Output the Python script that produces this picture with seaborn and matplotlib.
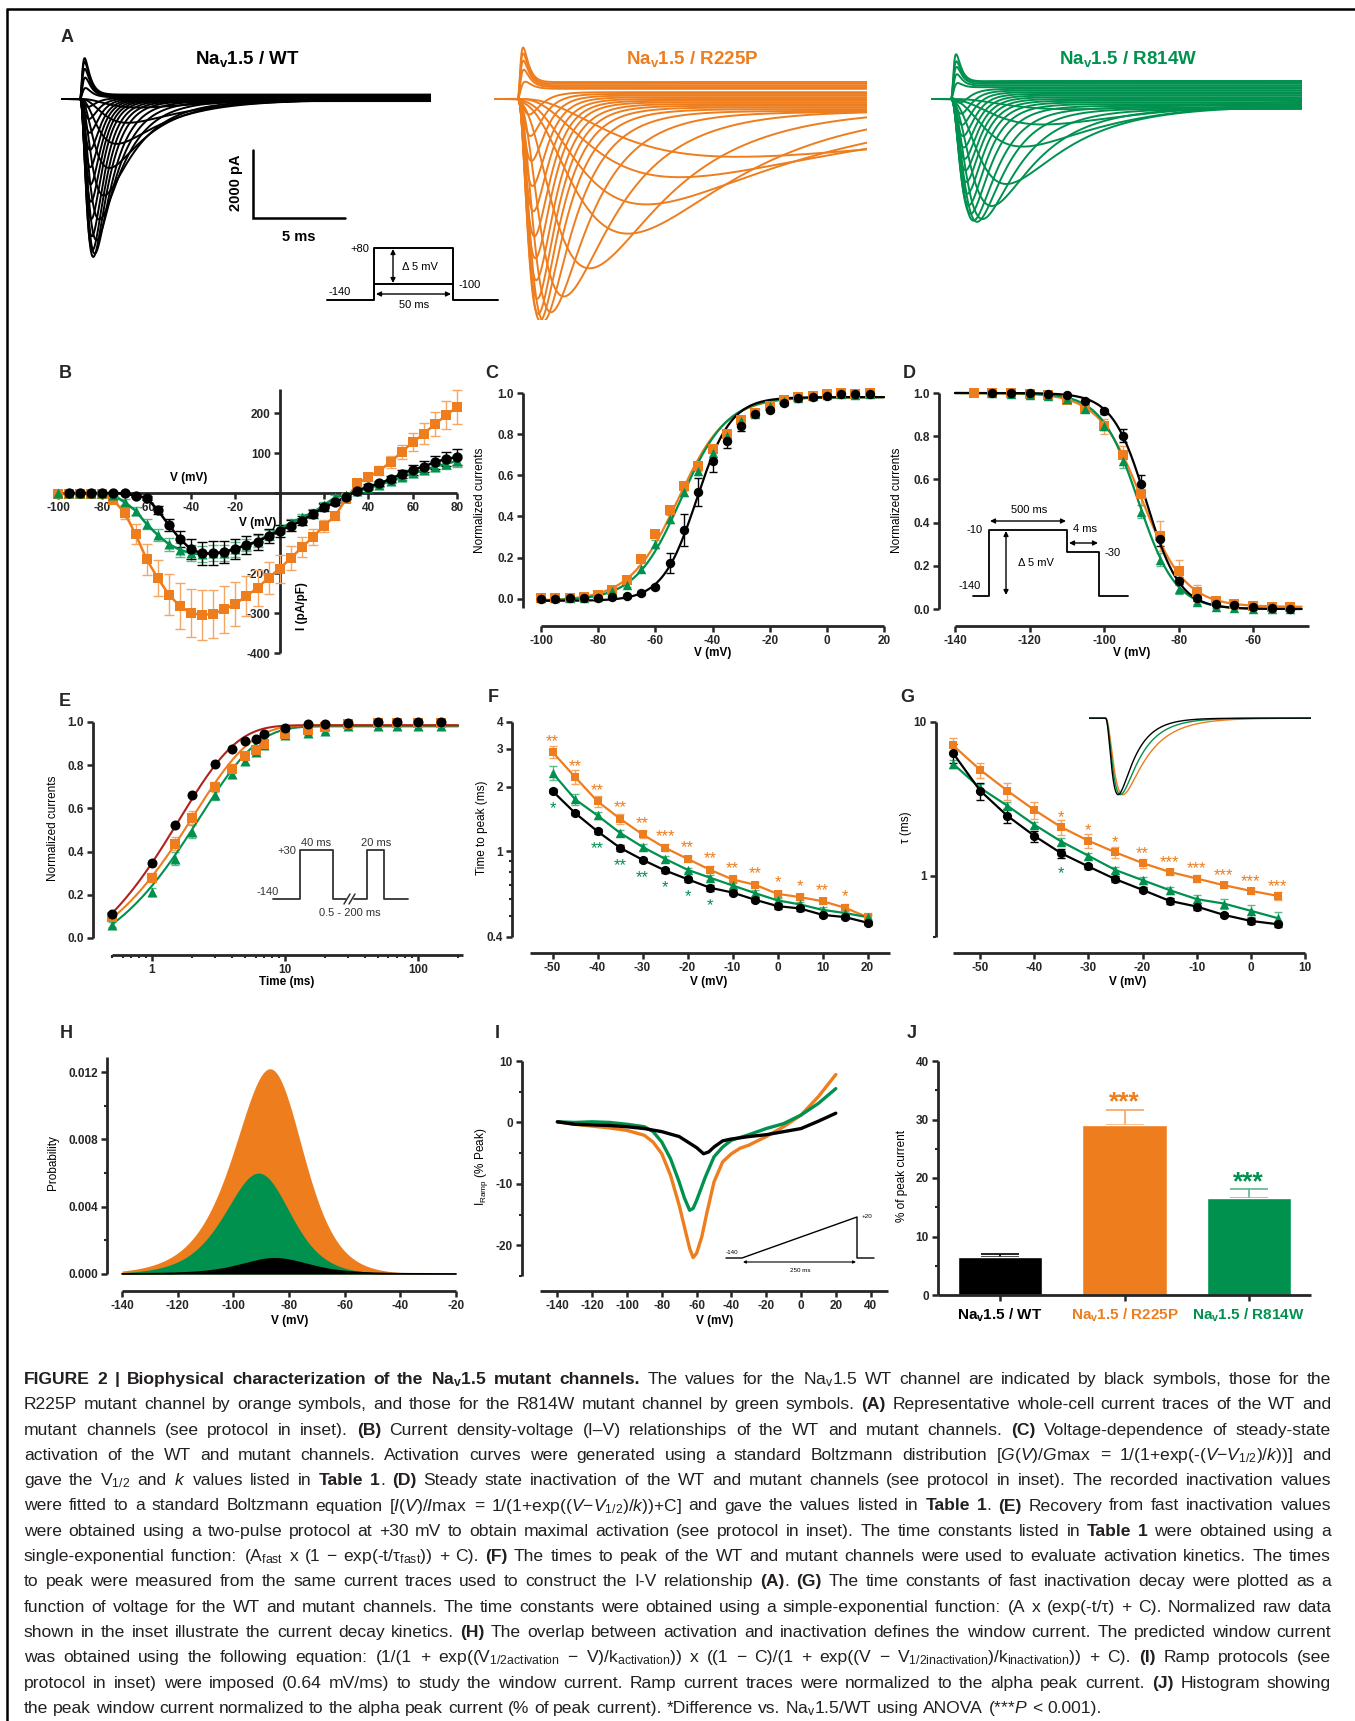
import numpy as np
import pandas as pd
import matplotlib
matplotlib.use("Agg")
import matplotlib.pyplot as plt
import matplotlib.ticker as mticker
import seaborn as sns

W, H = 1355, 1721

BLACK = "#000000"
ORANGE = "#EE7D1E"
GREEN = "#00914F"
FIT_RED = "#B0231D"
ORANGE_ERR = "#F4A664"
GREEN_ERR = "#5DB88B"

# ---------------- A: representative sweeps (peak pA, time to peak ms, decay tau ms, late pA)
wt_peak = [-250, -700, -1300, -2000, -2800, -3500, -4100, -4500, -4600, -4400, -4000, -3500,
           -3000, -2500, -2000, -1500, -1000, -600, -250, 300, 600, 850, 1050, 1150]
wt_ttp = [3.2, 2.6, 2.0, 1.6, 1.3, 1.05, 0.9, 0.8, 0.72, 0.68, 0.65, 0.62,
          0.6, 0.58, 0.56, 0.55, 0.53, 0.5, 0.45, 0.3, 0.28, 0.26, 0.25, 0.25]
wt_tau = [4.0, 3.4, 2.8, 2.3, 1.9, 1.5, 1.2, 1.0, 0.85, 0.75, 0.68, 0.62,
          0.58, 0.55, 0.52, 0.5, 0.48, 0.45, 0.42, 0.35, 0.32, 0.3, 0.3, 0.3]
wt_late = [0, 0, -20, -30, -40, -50, -60, -60, -60, -60, -50, -40,
           -30, -20, -10, 0, 10, 20, 30, 50, 70, 90, 110, 130]

or_peak = [-1700, -2300, -3000, -3760, -4680, -5460, -5900, -6200, -6250, -6100, -5700, -5200,
           -4600, -4000, -3300, -2600, -1900, -1200, -600, 350, 700, 950, 1150, 1300]
or_ttp = [12, 8.8, 7.0, 6.0, 3.9, 2.5, 1.8, 1.4, 1.2, 1.1, 1.05, 1.0,
          0.95, 0.9, 0.85, 0.8, 0.75, 0.7, 0.65, 0.35, 0.3, 0.28, 0.27, 0.27]
or_tau = [28, 16, 10, 6, 4.5, 3.2, 2.3, 1.8, 1.5, 1.3, 1.15, 1.05,
          0.95, 0.9, 0.85, 0.8, 0.75, 0.7, 0.65, 0.4, 0.36, 0.34, 0.33, 0.32]
or_late = [0, 0, -100, -200, -300, -350, -380, -350, -300, -250, -200, -150,
           -100, -50, 0, 50, 100, 150, 200, 300, 350, 400, 450, 500]

gr_peak = [-300, -700, -1300, -2300, -2900, -3250, -3350, -3350, -3200, -3000, -2700, -2400,
           -2100, -1800, -1500, -1200, -900, -600, -300, 300, 550, 750, 900, 1100]
gr_ttp = [6.5, 5.0, 3.9, 3.0, 2.2, 1.7, 1.4, 1.2, 1.05, 0.95, 0.88, 0.82,
          0.78, 0.74, 0.7, 0.66, 0.62, 0.58, 0.55, 0.3, 0.28, 0.27, 0.26, 0.25]
gr_tau = [8, 6, 4.6, 3.4, 2.6, 2.0, 1.6, 1.35, 1.15, 1.0, 0.9, 0.82,
          0.75, 0.7, 0.66, 0.62, 0.58, 0.55, 0.52, 0.35, 0.33, 0.32, 0.31, 0.3]
gr_late = [0, -50, -100, -200, -250, -290, -280, -250, -200, -150, -100, -50,
           0, 50, 100, 150, 200, 250, 300, 350, 400, 450, 500, 530]

# ---------------- B: current density (pA/pF)
iv_v = [-100, -95, -90, -85, -80, -75, -70, -65, -60, -55, -50, -45, -40, -35, -30, -25, -20, -15,
        -10, -5, 0, 5, 10, 15, 20, 25, 30, 35, 40, 45, 50, 55, 60, 65, 70, 75, 80]
iv_wt = [0, 0, 0, 0, 0, -1, -7, -12, -43, -80, -115, -141, -151, -151, -147, -139, -130, -122,
         -107, -95, -82, -69, -53, -36, -23, -9, 6, 16, 24, 35, 48, 58, 66, 77, 85, 90]
iv_wt_err = [0, 0, 0, 0, 0, 1, 3, 5, 10, 15, 20, 25, 28, 30, 28, 25, 22, 20,
             18, 16, 14, 12, 10, 8, 6, 5, 5, 6, 7, 8, 10, 12, 14, 16, 18, 20]
iv_or = [-2, -2, -2, -2, -3, -18, -49, -103, -166, -213, -254, -283, -300, -305, -302, -291, -277, -258,
         -237, -212, -189, -163, -136, -110, -82, -57, -15, 24, 39, 56, 77, 102, 127, 148, 172, 194, 215]
iv_or_err = [0, 0, 0, 0, 2, 6, 15, 25, 38, 45, 52, 57, 60, 62, 60, 58, 55, 50,
             45, 40, 35, 30, 25, 20, 15, 10, 8, 8, 10, 12, 15, 18, 22, 26, 30, 35, 42]
iv_gr = [-1, -1, -1, -1, -1, -5, -23, -44, -78, -105, -128, -142, -151, -153, -151, -149, -141, -130,
         -120, -105, -90, -75, -61, -49, -30, -11, -4, 4, 13, 21, 30, 40, 49, 57, 66, 73, 80]
iv_gr_err = [0, 0, 0, 0, 0, 2, 8, 10, 12, 15, 16, 18, 20, 20, 20, 20, 18, 16,
             14, 12, 10, 10, 8, 8, 8, 6, 5, 5, 5, 6, 6, 7, 8, 9, 10, 12, 14]

# ---------------- C: activation
act_v = [-100, -95, -90, -85, -80, -75, -70, -65, -60, -55, -50, -45, -40, -35, -30, -25, -20, -15,
         -10, -5, 0, 5, 10, 15]
act_wt = [0.0, 0.0, 0.005, 0.005, 0.005, 0.008, 0.011, 0.028, 0.055, 0.173, 0.335, 0.519, 0.668, 0.768,
          0.841, 0.898, 0.919, 0.951, 0.976, 0.981, 0.984, 0.997, 0.994, 0.997]
act_wt_err = [0, 0, 0, 0, 0, 0, 0.005, 0.01, 0.01, 0.05, 0.078, 0.07, 0.05, 0.035, 0.025, 0.015,
              0.01, 0.01, 0.008, 0.005, 0.005, 0.005, 0.005, 0.005]
act_or = [0.005, 0.005, 0.005, 0.01, 0.02, 0.044, 0.092, 0.194, 0.314, 0.43, 0.546, 0.643, 0.728, 0.802,
          0.867, 0.905, 0.938, 0.964, 0.98, 0.987, 0.997, 1.0, 0.997, 0.998]
act_gr = [0.005, 0.005, 0.005, 0.005, 0.01, 0.036, 0.068, 0.144, 0.266, 0.387, 0.517, 0.622, 0.708,
          0.789, 0.862, 0.9, 0.935, 0.96, 0.975, 0.985, 0.99, 0.995, 0.99, 0.993]
act_mut_err = [0, 0, 0, 0, 0, 0.01, 0.01, 0.015, 0.02, 0.02, 0.02, 0.02, 0.02, 0.02, 0.015, 0.01,
               0.01, 0.01, 0.005, 0.005, 0.005, 0.005, 0.005, 0.005]
act_fit_vhalf = [-45.5, -52.0, -51.0]
act_fit_k = [6.0, 8.5, 8.0]

# ---------------- D: steady-state inactivation
inact_v = [-135, -130, -125, -120, -115, -110, -105, -100, -95, -90, -85, -80, -75, -70, -65, -60, -55, -50]
inact_wt = [1.0, 1.0, 1.0, 0.997, 0.989, 0.964, 0.915, 0.802, 0.58, 0.323, 0.131, 0.049, 0.022,
            0.019, 0.011, 0.003, 0.0]
inact_wt_err = [0, 0, 0, 0, 0, 0.005, 0.01, 0.03, 0.04, 0.03, 0.015, 0.01, 0.005, 0.005, 0, 0, 0]
inact_or = [1.0, 1.0, 1.0, 0.995, 0.99, 0.969, 0.926, 0.845, 0.714, 0.533, 0.338, 0.176, 0.08,
            0.039, 0.022, 0.014, 0.011, 0.011]
inact_or_err = [0, 0, 0, 0, 0, 0.01, 0.015, 0.035, 0.04, 0.05, 0.07, 0.05, 0.03, 0.015, 0.01,
                0.005, 0.005, 0.005]
inact_gr = [0.998, 0.995, 0.99, 0.985, 0.972, 0.926, 0.845, 0.683, 0.451, 0.227, 0.091, 0.031,
            0.011, 0.003, 0.002, 0.001, 0.001]
inact_gr_err = [0, 0, 0, 0, 0, 0.01, 0.015, 0.03, 0.03, 0.03, 0.02, 0.01, 0.005, 0, 0, 0, 0]
inact_fit_vhalf = [-88.7, -89.8, -90.8]
inact_fit_k = [4.5, 5.8, 5.0]
inact_fit_c = [0.0, 0.01, 0.0]

# ---------------- E: recovery from inactivation
rec_t = [0.5, 1, 1.5, 2, 3, 4, 5, 6, 7, 10, 15, 20, 30, 50, 70, 100, 150]
rec_wt = [0.113, 0.347, 0.525, 0.66, 0.804, 0.873, 0.91, 0.923, 0.943, 0.972, 0.992, 0.989, 0.997,
          1.0, 1.0, 1.0, 1.0]
rec_or = [0.097, 0.279, 0.437, 0.557, 0.699, 0.784, 0.841, 0.872, 0.9, 0.946, 0.965, 0.977, 0.992,
          0.997, 0.997, 0.997, 0.997]
rec_or_err = [0.01, 0.02, 0.03, 0.03, 0.025, 0.02, 0.015, 0.015, 0.01, 0.01, 0.01, 0.01, 0.005,
              0.005, 0.005, 0.005, 0.005]
rec_gr = [0.062, 0.213, 0.367, 0.491, 0.664, 0.761, 0.819, 0.861, 0.892, 0.938, 0.949, 0.957,
          0.981, 0.98, 0.98, 0.98, 0.98]
rec_fit_top = [0.985, 0.985, 0.98]
rec_fit_amp = [1.19, 1.14, 1.14]
rec_fit_tau = [1.6, 2.05, 2.3]

# ---------------- F: time to peak (ms)
ttp_v = [-50, -45, -40, -35, -30, -25, -20, -15, -10, -5, 0, 5, 10, 15, 20]
ttp_wt = [1.91, 1.51, 1.24, 1.04, 0.915, 0.816, 0.743, 0.678, 0.644, 0.596, 0.557, 0.543, 0.507, 0.495, 0.466]
ttp_wt_err = [0.05, 0.04, 0.03, 0.03, 0.02, 0.02, 0.02, 0.02, 0.015, 0.015, 0.015, 0.015, 0.01, 0.01, 0.01]
ttp_or = [2.90, 2.22, 1.71, 1.42, 1.20, 1.04, 0.924, 0.822, 0.741, 0.70, 0.635, 0.613, 0.587, 0.547, 0.495]
ttp_or_err = [0.18, 0.16, 0.1, 0.08, 0.05, 0.04, 0.03, 0.03, 0.02, 0.02, 0.02, 0.02, 0.02, 0.02, 0.02]
ttp_gr = [2.32, 1.75, 1.47, 1.22, 1.05, 0.924, 0.822, 0.755, 0.695, 0.64, 0.592, 0.567, 0.535, 0.517, 0.495]
ttp_gr_err = [0.17, 0.1, 0.06, 0.04, 0.03, 0.03, 0.02, 0.02, 0.02, 0.02, 0.015, 0.015, 0.015, 0.01, 0.01]
ttp_or_stars = ["**", "**", "**", "**", "**", "***", "**", "**", "**", "**", "*", "*", "**", "*", ""]
ttp_gr_stars = ["*", "", "**", "**", "**", "*", "*", "*", "", "", "", "", "", "", ""]

# ---------------- G: inactivation time constants (ms)
tau_v = [-55, -50, -45, -40, -35, -30, -25, -20, -15, -10, -5, 0, 5]
tau_wt = [6.28, 3.58, 2.46, 1.82, 1.40, 1.15, 0.95, 0.81, 0.687, 0.631, 0.557, 0.509, 0.484]
tau_wt_err = [0.9, 0.45, 0.25, 0.15, 0.1, 0.05, 0.04, 0.03, 0.03, 0.03, 0.02, 0.02, 0.02]
tau_or = [7.05, 4.89, 3.58, 2.68, 2.07, 1.69, 1.42, 1.21, 1.06, 0.96, 0.869, 0.798, 0.74]
tau_or_err = [0.8, 0.55, 0.45, 0.35, 0.22, 0.17, 0.12, 0.08, 0.05, 0.05, 0.04, 0.04, 0.04]
tau_gr = [5.35, 3.73, 2.86, 2.15, 1.67, 1.35, 1.09, 0.937, 0.807, 0.705, 0.66, 0.592, 0.53]
tau_gr_err = [0.3, 0.2, 0.15, 0.1, 0.08, 0.06, 0.05, 0.05, 0.04, 0.04, 0.05, 0.05, 0.05]
tau_or_stars = ["", "", "", "", "*", "*", "*", "**", "***", "***", "***", "***", "***"]
tau_gr_stars = ["", "", "", "", "*", "", "", "", "", "", "", "", ""]

# ---------------- H: predicted window current (WT, R225P, R814W)
win_center = [-85, -84, -89]
win_peak = [0.0009, 0.0122, 0.0060]
win_k_act = [8, 10, 9]
win_k_inact = [8, 7, 7]

# ---------------- I: ramp currents (% peak)
ramp_v_wt = [-140, -130, -120, -110, -100, -90, -80, -70, -65, -60, -56, -53, -50, -45, -40, -30,
             -20, -10, 0, 10, 20]
ramp_wt = [0.1, -0.3, -0.4, -0.5, -0.7, -1.0, -1.5, -2.3, -3.2, -4.1, -5.1, -4.8, -4.0, -3.0, -2.7,
           -2.3, -2.0, -1.5, -1.0, 0.2, 1.5]
ramp_v_gr = [-140, -130, -120, -110, -100, -90, -85, -80, -75, -70, -67, -64, -62, -60, -55, -50,
             -45, -40, -30, -20, -10, 0, 10, 20]
ramp_gr = [0.1, 0.0, 0.1, 0.0, -0.3, -0.7, -1.5, -3.2, -5.9, -9.7, -12.3, -14.3, -14.0, -12.7, -8.9,
           -5.6, -4.0, -2.9, -2.0, -1.0, -0.2, 1.2, 3.1, 5.5]
ramp_v_or = [-140, -130, -120, -110, -100, -90, -85, -80, -75, -70, -67, -64, -62, -60, -57, -54,
             -50, -45, -40, -35, -30, -20, -10, 0, 10, 20]
ramp_or = [0.1, -0.3, -0.6, -0.9, -1.3, -2.1, -3.2, -5.1, -8.6, -13.5, -17.0, -20.5, -22.0, -21.3,
           -18.6, -14.6, -9.7, -6.4, -5.1, -4.2, -3.7, -2.3, -0.7, 1.2, 4.2, 7.8]

# ---------------- J: peak window current (% of peak current)
j_labels = [r"Na$_{\mathbf{v}}$1.5 / WT", r"Na$_{\mathbf{v}}$1.5 / R225P", r"Na$_{\mathbf{v}}$1.5 / R814W"]
j_values = [6.44, 29.06, 16.5]
j_err = [0.6, 2.6, 1.6]

# ---------------- style
sns.set_style("ticks")
plt.rcParams["font.family"] = ["Liberation Sans", "DejaVu Sans"]
plt.rcParams["mathtext.fontset"] = "custom"
plt.rcParams["mathtext.rm"] = "Liberation Sans"
plt.rcParams["mathtext.it"] = "Liberation Sans:italic"
plt.rcParams["mathtext.bf"] = "Liberation Sans:bold"
plt.rcParams["axes.linewidth"] = 2.0

TICK_FS = 8.5
LAB_FS = 8.5

fig = plt.figure(figsize=(W / 100, H / 100), dpi=100)
ov = fig.add_axes([0, 0, 1, 1], zorder=10)
ov.set_xlim(0, W)
ov.set_ylim(H, 0)
ov.axis("off")


def px_axes(x0, y0, x1, y1):
    return fig.add_axes([x0 / W, 1 - y1 / H, (x1 - x0) / W, (y1 - y0) / H])


def prism(ax, left_out=0, bottom_out=0):
    sns.despine(ax=ax)
    ax.spines["left"].set_position(("outward", left_out * 0.72))
    ax.spines["bottom"].set_position(("outward", bottom_out * 0.72))
    for side in ("left", "bottom"):
        ax.spines[side].set_linewidth(2.0)
        ax.spines[side].set_capstyle("butt")
    ax.tick_params(which="major", length=4.5, width=1.8, pad=2)
    ax.tick_params(which="minor", length=2.5, width=1.5)
    ax.set_xlabel("")
    ax.set_ylabel("")
    ax.patch.set_alpha(0)


def ticks(ax, axis, values, labels, minor=None):
    kw = dict(fontsize=TICK_FS, fontweight="bold")
    if axis == "x":
        ax.set_xticks(values, labels=labels, **kw)
        if minor is not None:
            ax.set_xticks(minor, minor=True)
            ax.xaxis.set_minor_formatter(mticker.NullFormatter())
    else:
        ax.set_yticks(values, labels=labels, **kw)
        if minor is not None:
            ax.set_yticks(minor, minor=True)
            ax.yaxis.set_minor_formatter(mticker.NullFormatter())


def series(ax, x, y, err, color, marker, size, ecolor=None, line=True, lw=1.6, capsize=3.0):
    df = pd.DataFrame({"x": x, "y": y})
    if err is not None:
        ax.errorbar(x, y, yerr=err, fmt="none", ecolor=ecolor or color, elinewidth=1.0,
                    capsize=capsize, capthick=1.0, zorder=3, clip_on=False)
    if line:
        sns.lineplot(data=df, x="x", y="y", color=color, lw=lw, ax=ax, sort=False,
                     zorder=3.2, legend=False, clip_on=False)
    sns.scatterplot(data=df, x="x", y="y", color=color, marker=marker, s=size, linewidth=0,
                    ax=ax, zorder=4, legend=False, clip_on=False)


def fit_line(ax, x, y, color, lw=1.6):
    sns.lineplot(data=pd.DataFrame({"x": x, "y": y}), x="x", y="y", color=color, lw=lw,
                 ax=ax, sort=False, zorder=3.1, legend=False, clip_on=False)


def label(x, y, s, rot=0, bold=False, fs=LAB_FS, color=BLACK, ha="center"):
    ov.text(x, y, s, ha=ha, va="center", rotation=rot, fontsize=fs,
            fontweight="bold" if bold else "normal", color=color)


def sweep_current(t, peak, ttp, tau, late, t_on):
    # m^3 h waveform whose extremum falls ttp after the step
    r = 2.0
    for _ in range(100):
        r = np.log1p(3.0 * tau * r / ttp)
    tm = ttp / r
    s = np.clip(t - t_on, 0.0, None)
    gate = (1 - np.exp(-s / tm)) ** 3 * np.exp(-s / tau)
    return peak * gate / gate.max() + late * (1 - np.exp(-s / 0.5))


# ---------------- frame and panel letters
ov.plot([7, 7], [9, H], color=BLACK, lw=1.8, solid_capstyle="butt")
ov.plot([6, W], [9, 9], color=BLACK, lw=1.8, solid_capstyle="butt")
for letter, (lx, ly) in {"A": (67, 38), "B": (65, 374), "C": (492, 374), "D": (909, 373),
                         "E": (65, 701), "F": (493, 697), "G": (907, 697), "H": (66, 1034),
                         "I": (497, 1033), "J": (912, 1034)}.items():
    ov.text(lx, ly, letter, ha="center", va="center", fontsize=13, fontweight="bold")

# ---------------- A
trace_sets = [
    ((61, 31, 431, 320), 20.1, 1.03, wt_peak, wt_ttp, wt_tau, wt_late, BLACK),
    ((494, 31, 867, 320), 20.3, 1.3, or_peak, or_ttp, or_tau, or_late, ORANGE),
    ((931, 31, 1302, 320), 20.2, 1.1, gr_peak, gr_ttp, gr_tau, gr_late, GREEN),
]
for rect, tmax, t_on, peaks, ttps, taus, lates, color in trace_sets:
    axA = px_axes(*rect)
    t = np.linspace(0, tmax, 1400)
    frames = [pd.DataFrame({"t": t, "I": sweep_current(t, p, tp, ta, la, t_on), "sweep": i})
              for i, (p, tp, ta, la) in enumerate(zip(peaks, ttps, taus, lates))]
    sns.lineplot(data=pd.concat(frames), x="t", y="I", units="sweep", estimator=None,
                 color=color, lw=1.4, ax=axA, legend=False)
    axA.set_xlim(0, tmax)
    axA.set_ylim(-6500, 2000)
    axA.axis("off")

label(247, 59, r"Na$_{\mathbf{v}}$1.5 / WT", bold=True, fs=13.5)
label(692, 59, r"Na$_{\mathbf{v}}$1.5 / R225P", bold=True, fs=13.5, color=ORANGE)
label(1128, 59, r"Na$_{\mathbf{v}}$1.5 / R814W", bold=True, fs=13.5, color=GREEN)

# scale bar
ov.plot([253, 253, 345], [150, 218, 218], color=BLACK, lw=1.8, solid_joinstyle="miter")
label(236, 183, "2000 pA", rot=90, bold=True, fs=10.5)
label(299, 237, "5 ms", bold=True, fs=10.5)

# step protocol inset
ov.plot([327, 374, 374, 453, 453, 498], [300, 300, 248, 248, 300, 300], color=BLACK, lw=1.4)
ov.plot([374, 453], [284, 284], color=BLACK, lw=1.4)
arrow = dict(arrowstyle="<|-|>", color=BLACK, lw=1.0, mutation_scale=7, shrinkA=0, shrinkB=0)
ov.annotate("", xy=(393, 249), xytext=(393, 283), arrowprops=arrow)
ov.annotate("", xy=(376, 294), xytext=(451, 294), arrowprops=arrow)
label(360, 249, "+80", fs=8)
label(340, 292, "-140", fs=8)
label(470, 285, "-100", fs=8)
label(420, 267, "Δ 5 mV", fs=8)
label(414, 305, "50 ms", fs=8)

# ---------------- B
axB = px_axes(58, 389, 457, 653)
series(axB, iv_v, iv_or, iv_or_err, ORANGE, "s", 46, ecolor=ORANGE_ERR, capsize=3.6, lw=1.8)
series(axB, iv_v, iv_gr, iv_gr_err, GREEN, "^", 52, ecolor=GREEN_ERR, capsize=3.6, lw=1.8)
series(axB, iv_v[1:], iv_wt, iv_wt_err, BLACK, "o", 55, capsize=3.6, lw=1.8)
axB.set_xlim(-100, 80)
axB.set_ylim(-400, 260)
prism(axB)
axB.spines["left"].set_position(("data", 0))
axB.spines["bottom"].set_position(("data", 0))
ticks(axB, "x", [-100, -80, -60, -40, -20, 0, 20, 40, 60, 80],
      ["-100", "-80", "-60", "-40", "-20", "", "20", "40", "60", "80"])
ticks(axB, "y", [-400, -300, -200, -100, 0, 100, 200],
      ["-400", "-300", "-200", "", "", "100", "200"])
label(189, 478, "V (mV)", bold=True)
label(258, 523, "V (mV)", bold=True)
label(302, 606, "I (pA/pF)", rot=90, bold=True)

# ---------------- C
axC = px_axes(541, 393, 884, 608)
v_act = np.linspace(-100, 20, 300)
for k, vals, err, color, marker, ecol in [
        (1, act_or, act_mut_err, ORANGE, "s", ORANGE_ERR),
        (2, act_gr, act_mut_err, GREEN, "^", GREEN_ERR),
        (0, act_wt, act_wt_err, BLACK, "o", BLACK)]:
    fit_line(axC, v_act, -0.01 + 0.99 / (1 + np.exp((act_fit_vhalf[k] - v_act) / act_fit_k[k])), color)
    series(axC, act_v, vals, err, color, marker, 46, ecolor=ecol, line=False)
axC.set_xlim(-100, 20)
axC.set_ylim(-0.045, 1.0)
prism(axC, 18, 18)
ticks(axC, "x", [-100, -80, -60, -40, -20, 0, 20], ["-100", "-80", "-60", "-40", "-20", "0", "20"])
ticks(axC, "y", [0, 0.2, 0.4, 0.6, 0.8, 1.0], ["0.0", "0.2", "0.4", "0.6", "0.8", "1.0"])
label(480, 500, "Normalized currents", rot=90)
label(713, 653, "V (mV)", bold=True)

# ---------------- D
axD = px_axes(955, 393, 1309, 609)
v_in = np.linspace(-140, -47, 300)
for k, vx, vals, err, color, marker, ecol in [
        (1, inact_v, inact_or, inact_or_err, ORANGE, "s", ORANGE_ERR),
        (2, inact_v[1:], inact_gr, inact_gr_err, GREEN, "^", GREEN_ERR),
        (0, inact_v[1:], inact_wt, inact_wt_err, BLACK, "o", BLACK)]:
    c = inact_fit_c[k]
    fit_line(axD, v_in, c + (1 - c) / (1 + np.exp((v_in - inact_fit_vhalf[k]) / inact_fit_k[k])), color)
    series(axD, vx, vals, err, color, marker, 46, ecolor=ecol, line=False)
axD.set_xlim(-140, -45)
axD.set_ylim(0, 1.0)
prism(axD, 16, 17)
ticks(axD, "x", [-140, -120, -100, -80, -60], ["-140", "-120", "-100", "-80", "-60"])
ticks(axD, "y", [0, 0.2, 0.4, 0.6, 0.8, 1.0], ["0.0", "0.2", "0.4", "0.6", "0.8", "1.0"])
label(897, 500, "Normalized currents", rot=90)
label(1132, 653, "V (mV)", bold=True)

# inactivation protocol inset
ov.plot([973, 989, 989, 1067, 1067, 1099, 1099, 1128], [596, 596, 530, 530, 552, 552, 596, 596],
        color=BLACK, lw=1.3)
ov.annotate("", xy=(990, 521), xytext=(1066, 521), arrowprops=arrow)
ov.annotate("", xy=(1069, 543), xytext=(1098, 543), arrowprops=arrow)
ov.annotate("", xy=(1006, 531), xytext=(1006, 595), arrowprops=arrow)
label(1029, 510, "500 ms", fs=8)
label(975, 530, "-10", fs=8)
label(1085, 529, "4 ms", fs=8)
label(1113, 553, "-30", fs=8)
label(1036, 563, "Δ 5 mV", fs=8)
label(970, 586, "-140", fs=8)

# ---------------- E
axE = px_axes(112, 722, 463, 938)
t_fit = np.geomspace(0.5, 200, 300)
for k, vals, err, color, marker, ecol, lcol in [
        (2, rec_gr, rec_or_err, GREEN, "^", GREEN_ERR, GREEN),
        (1, rec_or, rec_or_err, ORANGE, "s", ORANGE_ERR, ORANGE),
        (0, rec_wt, None, BLACK, "o", BLACK, FIT_RED)]:
    fit_line(axE, t_fit, rec_fit_top[k] - rec_fit_amp[k] * np.exp(-t_fit / rec_fit_tau[k]), lcol, lw=1.5)
    series(axE, rec_t, vals, err, color, marker, 52, ecolor=ecol, line=False)
axE.set_xscale("log")
axE.set_xlim(0.5, 218)
axE.set_ylim(0, 1.0)
prism(axE, 19, 17)
ticks(axE, "x", [1, 10, 100], ["1", "10", "100"],
      minor=[0.5, 0.6, 0.7, 0.8, 0.9, 2, 3, 4, 5, 6, 7, 8, 9, 20, 30, 40, 50, 60, 70, 80, 90, 200])
ticks(axE, "y", [0, 0.2, 0.4, 0.6, 0.8, 1.0], ["0.0", "0.2", "0.4", "0.6", "0.8", "1.0"])
label(53, 828, "Normalized currents", rot=90)
label(287, 982, "Time (ms)", bold=True)

# two-pulse protocol inset
ov.plot([273, 300, 300, 333, 333, 346], [899, 899, 850, 850, 899, 899], color="#333333", lw=1.3)
ov.plot([354, 367, 367, 384, 384, 408], [899, 899, 850, 850, 899, 899], color="#333333", lw=1.3)
ov.plot([344, 350], [904, 894], color="#333333", lw=1.1)
ov.plot([349, 355], [904, 894], color="#333333", lw=1.1)
label(287, 851, "+30", fs=8, color="#333333")
label(268, 892, "-140", fs=8, color="#333333")
label(316, 843, "40 ms", fs=8, color="#333333")
label(376, 843, "20 ms", fs=8, color="#333333")
label(350, 913, "0.5 - 200 ms", fs=8, color="#333333")

# ---------------- F
axF = px_axes(530, 722, 890, 937)
series(axF, ttp_v, ttp_or, ttp_or_err, ORANGE, "s", 40, ecolor=ORANGE_ERR)
series(axF, ttp_v, ttp_gr, ttp_gr_err, GREEN, "^", 46, ecolor=GREEN_ERR)
series(axF, ttp_v, ttp_wt, ttp_wt_err, BLACK, "o", 44)
for v, s, y in zip(ttp_v, ttp_or_stars, ttp_or):
    if s:
        axF.text(v, y * 1.07, s, ha="center", va="baseline", fontsize=12, color=ORANGE)
for v, s, y in zip(ttp_v, ttp_gr_stars, ttp_wt):
    if s:
        axF.text(v, y * 0.79, s, ha="center", va="baseline", fontsize=12, color=GREEN)
axF.set_yscale("log")
axF.set_xlim(-55, 25)
axF.set_ylim(0.4, 4)
prism(axF, 18, 16)
ticks(axF, "x", [-50, -40, -30, -20, -10, 0, 10, 20], ["-50", "-40", "-30", "-20", "-10", "0", "10", "20"])
ticks(axF, "y", [0.4, 1, 2, 3, 4], ["0.4", "1", "2", "3", "4"], minor=[0.5, 0.6, 0.7, 0.8, 0.9])
label(482, 828, "Time to peak (ms)", rot=90)
label(709, 982, "V (mV)", bold=True)

# ---------------- G
axG = px_axes(953, 722, 1305, 937)
series(axG, tau_v, tau_or, tau_or_err, ORANGE, "s", 40, ecolor=ORANGE_ERR)
series(axG, tau_v, tau_gr, tau_gr_err, GREEN, "^", 46, ecolor=GREEN_ERR)
series(axG, tau_v, tau_wt, tau_wt_err, BLACK, "o", 44)
for v, s, y in zip(tau_v, tau_or_stars, tau_or):
    if s:
        axG.text(v, y * 1.08, s, ha="center", va="baseline", fontsize=12, color=ORANGE)
for v, s, y in zip(tau_v, tau_gr_stars, tau_wt):
    if s:
        axG.text(v, y * 0.69, s, ha="center", va="baseline", fontsize=12, color=GREEN)
axG.set_yscale("log")
axG.set_xlim(-55, 10)
axG.set_ylim(0.4, 10)
prism(axG, 17, 16)
ticks(axG, "x", [-50, -40, -30, -20, -10, 0, 10], ["-50", "-40", "-30", "-20", "-10", "0", "10"])
ticks(axG, "y", [1, 10], ["1", "10"], minor=[0.4])
label(906, 827, "τ (ms)", rot=90)
label(1128, 982, "V (mV)", bold=True)

# normalized decay inset (kinetics at -35 mV from F and G)
axGi = px_axes(1089, 712, 1311, 800)
i35 = ttp_v.index(-35)
j35 = tau_v.index(-35)
t_in = np.linspace(0, 17.8, 900)
for ttp_arr, tau_arr, color in [(ttp_or, tau_or, ORANGE), (ttp_gr, tau_gr, GREEN), (ttp_wt, tau_wt, BLACK)]:
    tr = sweep_current(t_in, -1.0, ttp_arr[i35], tau_arr[j35], 0.0, 1.3)
    sns.lineplot(x=t_in, y=tr, color=color, lw=1.0, ax=axGi)
axGi.set_xlim(0, 17.8)
axGi.set_ylim(-1.07, 0.08)
axGi.axis("off")

# ---------------- H
axH = px_axes(122, 1057, 456, 1274)
v_win = np.linspace(-140, -20, 600)
for k, color in [(1, ORANGE), (2, GREEN), (0, BLACK)]:
    w = 1 / ((1 + np.exp((win_center[k] - v_win) / win_k_act[k])) *
             (1 + np.exp((v_win - win_center[k]) / win_k_inact[k])))
    w = win_peak[k] * w / w.max()
    axH.fill_between(v_win, 0, w, color=color, lw=0, zorder=2)
    if k == 0:
        fit_line(axH, v_win, w, BLACK, lw=1.3)
axH.set_xlim(-140, -20)
axH.set_ylim(0, 0.0129)
prism(axH, 15, 17)
ticks(axH, "x", [-140, -120, -100, -80, -60, -40, -20], ["-140", "-120", "-100", "-80", "-60", "-40", "-20"])
ticks(axH, "y", [0, 0.004, 0.008, 0.012], ["0.000", "0.004", "0.008", "0.012"], minor=[0.002, 0.006, 0.010])
label(53, 1163, "Probability", rot=90)
label(290, 1321, "V (mV)", bold=True)

# ---------------- I
axI = px_axes(540, 1061, 888, 1276)
for vx, vals, color in [(ramp_v_or, ramp_or, ORANGE), (ramp_v_gr, ramp_gr, GREEN), (ramp_v_wt, ramp_wt, BLACK)]:
    fit_line(axI, vx, vals, color, lw=2.4)
axI.set_xlim(-150, 50)
axI.set_ylim(-25, 10)
prism(axI, 18, 15)
ticks(axI, "x", [-140, -120, -100, -80, -60, -40, -20, 0, 20, 40],
      ["-140", "-120", "-100", "-80", "-60", "-40", "-20", "0", "20", "40"])
ticks(axI, "y", [-20, -10, 0, 10], ["-20", "-10", "0", "10"], minor=[-25, -15, -5, 5])
label(481, 1167, r"I$_{\mathrm{Ramp}}$ (% Peak)", rot=90)
label(715, 1321, "V (mV)", bold=True)

# ramp protocol inset
ov.plot([726, 742, 857, 857, 874], [1258, 1258, 1217, 1258, 1258], color=BLACK, lw=1.0)
ov.annotate("", xy=(743, 1262), xytext=(856, 1262),
            arrowprops=dict(arrowstyle="<|-|>", color=BLACK, lw=0.8, mutation_scale=4, shrinkA=0, shrinkB=0))
label(732, 1253, "-140", fs=4.5)
label(867, 1216, "+20", fs=4.5)
label(800, 1270, "250 ms", fs=4.5)

# ---------------- J
axJ = px_axes(938, 1061, 1311, 1295)
j_colors = [BLACK, ORANGE, GREEN]
sns.barplot(x=j_labels, y=j_values, hue=j_labels, palette=j_colors, width=0.68, saturation=1,
            legend=False, ax=axJ, zorder=2)
j_ecolors = [BLACK, ORANGE_ERR, GREEN_ERR]
for i, (val, err) in enumerate(zip(j_values, j_err)):
    axJ.errorbar([i], [val], yerr=[[0], [err]], fmt="none", ecolor=j_ecolors[i], elinewidth=1.2,
                 capsize=14, capthick=1.2, zorder=1.5)
for i, star_color in [(1, ORANGE), (2, GREEN)]:
    axJ.text(i, j_values[i] + j_err[i], "***", ha="center", va="baseline",
             fontsize=19, fontweight="bold", color=star_color)
axJ.set_xlim(-0.5, 2.5)
axJ.set_ylim(0, 40)
prism(axJ)
ticks(axJ, "y", [0, 10, 20, 30, 40], ["0", "10", "20", "30", "40"], minor=[5, 15, 25, 35])
axJ.set_xticks([0, 1, 2], labels=j_labels, fontsize=11, fontweight="bold")
for lab, col in zip(axJ.get_xticklabels(), j_colors):
    lab.set_color(col)
axJ.tick_params(axis="x", pad=4)
label(902, 1176, "% of peak current", rot=90)

# ---------------- caption (justified lines)
CAP_FS = 12.6
CAP_X0, CAP_X1 = 24, 1331
caption = [
    [("bold", "FIGURE 2 | Biophysical characterization of the Na$_{\\mathbf{v}}$1.5 mutant channels."),
     ("normal", " The values for the Na$_{\\mathrm{v}}$1.5 WT channel are indicated by black symbols, those for the")],
    [("normal", "R225P mutant channel by orange symbols, and those for the R814W mutant channel by green symbols. "),
     ("bold", "(A)"), ("normal", " Representative whole-cell current traces of the WT and")],
    [("normal", "mutant channels (see protocol in inset). "), ("bold", "(B)"),
     ("normal", " Current density-voltage (I–V) relationships of the WT and mutant channels. "), ("bold", "(C)"),
     ("normal", " Voltage-dependence of steady-state")],
    [("normal", "activation of the WT and mutant channels. Activation curves were generated using a standard "
                "Boltzmann distribution [$G$($V$)/$G$max = 1/(1+exp(-($V$−$V_{1/2}$)/$k$))] and")],
    [("normal", "gave the V$_{1/2}$ and $k$ values listed in "), ("bold", "Table 1"), ("normal", ". "),
     ("bold", "(D)"), ("normal", " Steady state inactivation of the WT and mutant channels (see protocol in inset). "
                                "The recorded inactivation values")],
    [("normal", "were fitted to a standard Boltzmann equation [$I$($V$)/$I$max = 1/(1+exp(($V$−$V_{1/2}$)/$k$))+C] "
                "and gave the values listed in "), ("bold", "Table 1"), ("normal", ". "), ("bold", "(E)"),
     ("normal", " Recovery from fast inactivation values")],
    [("normal", "were obtained using a two-pulse protocol at +30 mV to obtain maximal activation (see protocol in "
                "inset). The time constants listed in "), ("bold", "Table 1"), ("normal", " were obtained using a")],
    [("normal", "single-exponential function: (A$_{\\mathrm{fast}}$ x (1 − exp(-t/τ$_{\\mathrm{fast}}$)) + C). "),
     ("bold", "(F)"), ("normal", " The times to peak of the WT and mutant channels were used to evaluate "
                                "activation kinetics. The times")],
    [("normal", "to peak were measured from the same current traces used to construct the I-V relationship "),
     ("bold", "(A)"), ("normal", ". "), ("bold", "(G)"),
     ("normal", " The time constants of fast inactivation decay were plotted as a")],
    [("normal", "function of voltage for the WT and mutant channels. The time constants were obtained using a "
                "simple-exponential function: (A x (exp(-t/τ) + C). Normalized raw data")],
    [("normal", "shown in the inset illustrate the current decay kinetics. "), ("bold", "(H)"),
     ("normal", " The overlap between activation and inactivation defines the window current. "
                "The predicted window current")],
    [("normal", "was obtained using the following equation: (1/(1 + exp((V$_{\\mathrm{1/2activation}}$ − "
                "V)/k$_{\\mathrm{activation}}$)) x ((1 − C)/(1 + exp((V − V$_{\\mathrm{1/2inactivation}}$)"
                "/k$_{\\mathrm{inactivation}}$)) + C). "), ("bold", "(I)"), ("normal", " Ramp protocols (see")],
    [("normal", "protocol in inset) were imposed (0.64 mV/ms) to study the window current. Ramp current traces "
                "were normalized to the alpha peak current. "), ("bold", "(J)"), ("normal", " Histogram showing")],
    [("normal", "the peak window current normalized to the alpha peak current (% of peak current). "
                "*Difference vs. Na$_{\\mathrm{v}}$1.5/WT using ANOVA (***$P$ < 0.001).")],
]

renderer = fig.canvas.get_renderer()


def caption_line(segments, y, justify):
    words = []
    new_word = True
    for weight, text in segments:
        for i, part in enumerate(text.split(" ")):
            if i > 0:
                new_word = True
            if not part:
                continue
            if new_word:
                words.append([])
                new_word = False
            words[-1].append((part, weight))
    placed = []
    for word in words:
        placed.append([ov.text(0, y, part, fontsize=CAP_FS, fontweight=weight, ha="left",
                               va="baseline", color="#231F20") for part, weight in word])

    def measure():
        return [[t.get_window_extent(renderer).width for t in p] for p in placed]

    widths = measure()
    total = sum(sum(w) for w in widths)
    room = CAP_X1 - CAP_X0 - 3.0 * (len(placed) - 1)
    if justify and total > room:
        for p in placed:
            for t in p:
                t.set_fontsize(CAP_FS * room / total)
        widths = measure()
        total = sum(sum(w) for w in widths)
    if justify:
        gap = (CAP_X1 - CAP_X0 - total) / (len(placed) - 1)
    else:
        gap = CAP_FS * 100 / 72 * 0.278
    x = CAP_X0
    for p, ws in zip(placed, widths):
        for t, w in zip(p, ws):
            t.set_x(x)
            x += w
        x += gap


for n, segs in enumerate(caption):
    caption_line(segs, 1384 + n * 25.3, justify=n < len(caption) - 1)

fig.savefig("out.png", dpi=100)
